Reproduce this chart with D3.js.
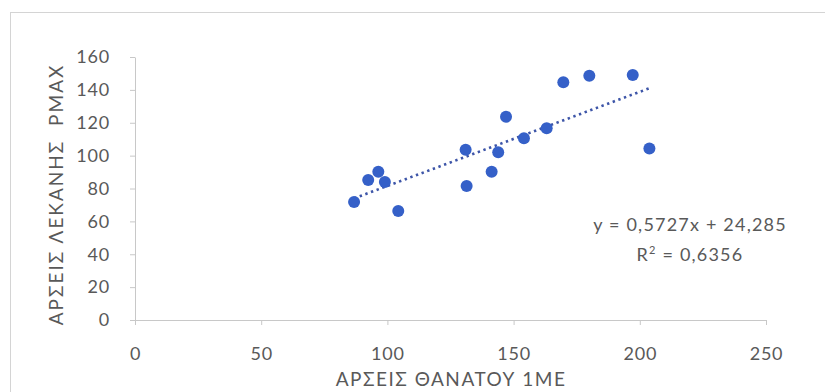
<!DOCTYPE html>
<html>
<head>
<meta charset="utf-8">
<script src="https://cdn.jsdelivr.net/npm/d3@7"></script>
<style>
  html, body { margin: 0; padding: 0; background: #ffffff; }
  svg { display: block; }
  text { font-family: Lato, "Open Sans", "Liberation Sans", sans-serif; fill: #595959; }
</style>
</head>
<body>
<svg id="chart" width="825" height="392"></svg>
<script>
// Scatter data: ΑΡΣΕΙΣ ΘΑΝΑΤΟΥ 1ΜΕ (x) vs ΑΡΣΕΙΣ ΛΕΚΑΝΗΣ ΡΜΑΧ (y)
const xValues = [86.8, 92.4, 96.4, 99.0, 104.3, 131.0, 131.4, 141.3, 143.9, 147.0, 154.1, 163.1, 169.7, 180.0, 197.2, 203.8];
const yValues = [71.8, 85.2, 90.2, 84.0, 66.3, 103.6, 81.5, 90.2, 102.0, 123.7, 110.5, 116.6, 144.6, 148.6, 149.0, 104.4];
const xTicks = [0, 50, 100, 150, 200, 250];
const yTicks = [0, 20, 40, 60, 80, 100, 120, 140, 160];
const slope = 0.5727;
const intercept = 24.285;
const rSquared = 0.6356;
const xTitle = "ΑΡΣΕΙΣ ΘΑΝΑΤΟΥ 1ΜΕ";
const yTitle = "ΑΡΣΕΙΣ ΛΕΚΑΝΗΣ  ΡΜΑΧ";

const fmt = v => String(v).replace(".", ",");

const svg = d3.select("#chart");

// Chart area frame
svg.append("rect")
  .attr("x", 10.5).attr("y", 12.5)
  .attr("width", 830).attr("height", 400)
  .attr("fill", "#ffffff")
  .attr("stroke", "#d4d4d4")
  .attr("stroke-width", 1);

const plot = { left: 135, right: 766, top: 57, bottom: 320 };

const x = d3.scaleLinear().domain([0, 250]).range([plot.left, plot.right]);
const y = d3.scaleLinear().domain([0, 160]).range([plot.bottom, plot.top]);

// Y axis
const yAxis = svg.append("g")
  .attr("transform", `translate(${plot.left},0)`)
  .call(d3.axisLeft(y).tickValues(yTicks).tickSize(5).tickPadding(20).tickSizeOuter(0));
yAxis.select(".domain").attr("stroke", "#c8c8c8");
yAxis.selectAll(".tick line").attr("stroke", "#c8c8c8");
yAxis.selectAll(".tick text")
  .attr("font-size", 18)
  .attr("fill", "#595959")
  .attr("letter-spacing", 0.8)
  .style("font-family", "Lato, 'Open Sans', sans-serif");

// X axis
const xAxis = svg.append("g")
  .attr("transform", `translate(0,${plot.bottom})`)
  .call(d3.axisBottom(x).tickValues(xTicks).tickSize(5).tickPadding(22).tickSizeOuter(0));
xAxis.select(".domain").attr("stroke", "#c8c8c8");
xAxis.selectAll(".tick line").attr("stroke", "#c8c8c8");
xAxis.selectAll(".tick text")
  .attr("font-size", 18)
  .attr("fill", "#595959")
  .attr("letter-spacing", 0.8)
  .style("font-family", "Lato, 'Open Sans', sans-serif");

// Linear trendline over the data range
const xMin = d3.min(xValues), xMax = d3.max(xValues);
svg.append("line")
  .attr("x1", x(xMin)).attr("y1", y(slope * xMin + intercept))
  .attr("x2", x(xMax)).attr("y2", y(slope * xMax + intercept))
  .attr("stroke", "#3d55a8")
  .attr("stroke-width", 2.6)
  .attr("stroke-dasharray", "2.4,3.6");

// Points
const points = xValues.map((v, i) => ({ x: v, y: yValues[i] }));
svg.append("g").selectAll("circle")
  .data(points)
  .join("circle")
  .attr("cx", d => x(d.x))
  .attr("cy", d => y(d.y))
  .attr("r", 6)
  .attr("fill", "#3560c8");

// Trendline equation
const eq = svg.append("text")
  .attr("x", 690).attr("y", 231)
  .attr("text-anchor", "middle")
  .attr("letter-spacing", 1.2)
  .attr("font-size", 18);
eq.append("tspan").text(`y = ${fmt(slope)}x + ${fmt(intercept)}`);
const r2 = svg.append("text")
  .attr("x", 690).attr("y", 261)
  .attr("text-anchor", "middle")
  .attr("letter-spacing", 1.2)
  .attr("font-size", 18);
r2.append("tspan").text("R");
r2.append("tspan").attr("font-size", 11).attr("dy", -7).text("2");
r2.append("tspan").attr("dy", 7).text(` = ${fmt(rSquared)}`);

// Axis titles
svg.append("text")
  .attr("x", 451).attr("y", 386)
  .attr("text-anchor", "middle")
  .attr("font-size", 19)
  .attr("letter-spacing", 1.5)
  .text(xTitle);

svg.append("text")
  .attr("transform", `translate(63,${(plot.top + plot.bottom) / 2 + 6}) rotate(-90)`)
  .attr("text-anchor", "middle")
  .attr("font-size", 19)
  .attr("letter-spacing", 2)
  .style("white-space", "pre")
  .text(yTitle);
</script>
</body>
</html>
